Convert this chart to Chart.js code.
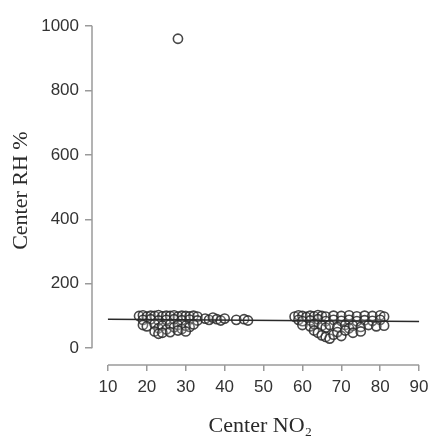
<!DOCTYPE html>
<html><head><meta charset="utf-8">
<script src="https://cdn.jsdelivr.net/npm/chart.js@4"></script>
<style>html,body{margin:0;padding:0;background:#fff}#wrap{width:435px;height:439px}</style>
</head><body><div id="wrap"><canvas id="c" width="435" height="439"></canvas></div>
<script>
const xTicks = [10,20,30,40,50,60,70,80,90];
const yTicks = [0,200,400,600,800,1000];
const xTitle = 'Center NO₂';
const yTitle = 'Center RH %';
const no2 = [18,19,20,21,22,23,24,25,26,27,28,29,30,31,32,33,
  19,21,23,25,27,29,31,33,
  19,20,22,23,24,25,26,27,28,29,30,31,32,
  22,23,24,26,28,30,
  35,36,37,38,39,40,43,45,46,
  58,59,60,61,62,63,64,65,66,68,70,72,74,76,78,80,81,
  59,60,62,64,66,68,70,72,74,76,78,80,
  60,62,63,65,66,67,69,71,72,73,75,77,79,81,
  63,64,65,66,67,68,69,70,71,73,75,
  28];
const rh = [100,102,98,101,100,103,99,101,100,102,98,101,100,99,101,98,
  88,90,86,88,90,87,89,86,
  72,68,75,62,70,58,74,65,72,60,70,66,74,
  52,45,48,50,55,52,
  92,88,95,90,86,92,88,90,86,
  98,102,100,97,101,99,103,100,98,101,100,102,99,101,100,102,98,
  88,84,86,90,84,88,85,88,84,87,85,88,
  72,68,75,70,64,72,66,72,62,70,66,72,68,70,
  55,48,40,35,30,42,50,38,55,48,52,
  960];
const fitX = [10,90];
const fitY = [90,83];

const axisLines = {
  id:'axisLines',
  afterDraw(chart){
    const ctx = chart.ctx, xs = chart.scales.x, ys = chart.scales.y, a = chart.chartArea;
    ctx.save();
    ctx.strokeStyle = '#9a9a9a'; ctx.lineWidth = 1.5;
    ctx.beginPath();
    ctx.moveTo(a.left, ys.getPixelForValue(yTicks[0]));
    ctx.lineTo(a.left, ys.getPixelForValue(yTicks[yTicks.length-1]));
    ctx.moveTo(xs.getPixelForValue(xTicks[0]), a.bottom);
    ctx.lineTo(xs.getPixelForValue(xTicks[xTicks.length-1]), a.bottom);
    ctx.stroke();
    ctx.restore();
  }
};

new Chart(document.getElementById('c'), {
  type:'scatter',
  data:{datasets:[
    {type:'line', data:fitX.map((x,i)=>({x, y:fitY[i]})), borderColor:'#2a2a2a', borderWidth:1.6, pointRadius:0, fill:false, order:0},
    {data:no2.map((x,i)=>({x, y:rh[i]})), pointRadius:4.6, pointBorderWidth:1.6,
     pointBorderColor:'rgba(40,40,40,0.85)', pointBackgroundColor:'rgba(255,255,255,0.2)', order:1}
  ]},
  plugins:[axisLines],
  options:{
    responsive:false, animation:false,
    layout:{padding:{top:10,right:3,left:8,bottom:0}},
    plugins:{legend:{display:false}, tooltip:{enabled:false}},
    scales:{
      x:{type:'linear', min:5.9, max:92.5,
        afterBuildTicks(s){ s.ticks = xTicks.map(v=>({value:v})); },
        afterFit(s){ s.height = 74; },
        grid:{display:true, drawOnChartArea:false, drawTicks:true, tickLength:6, color:'#9a9a9a', lineWidth:1.5},
        border:{display:false},
        ticks:{font:{family:'Liberation Sans', size:17}, color:'#333', padding:6, maxRotation:0, autoSkip:false, callback:v=>String(v)},
        title:{display:true, text:xTitle, font:{family:'Liberation Serif', size:22}, color:'#2a2a2a', padding:{top:20,bottom:0}}
      },
      y:{type:'linear', min:-52, max:1030,
        afterBuildTicks(s){ s.ticks = yTicks.map(v=>({value:v})); },
        afterFit(s){ s.width = 84; },
        grid:{display:true, drawOnChartArea:false, drawTicks:true, tickLength:7, color:'#9a9a9a', lineWidth:1.5},
        border:{display:false},
        ticks:{font:{family:'Liberation Sans', size:17}, color:'#333', padding:6, autoSkip:false, callback:v=>String(v)},
        title:{display:true, text:yTitle, font:{family:'Liberation Serif', size:22}, color:'#2a2a2a', padding:{top:0,bottom:0}}
      }
    }
  }
});
</script></body></html>
